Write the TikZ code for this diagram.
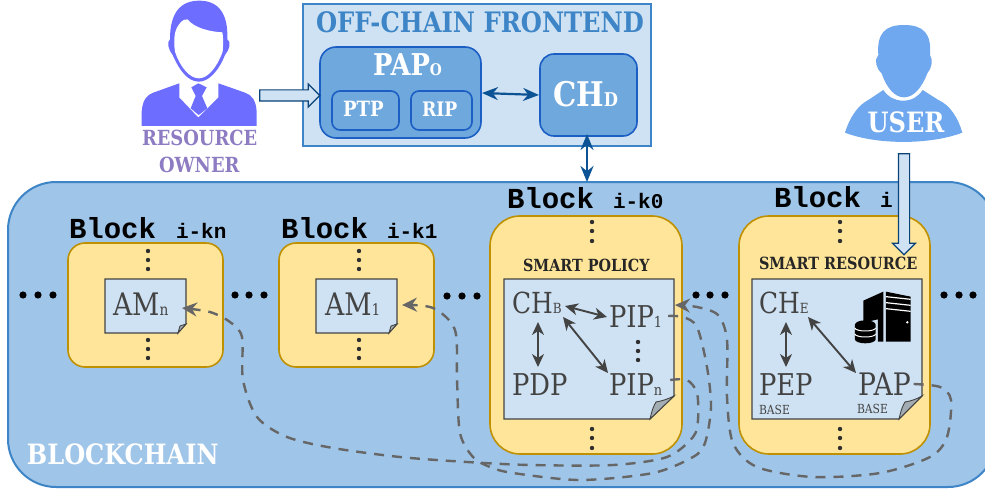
\documentclass[tikz,border=0pt]{standalone}
\usepackage{fontspec}
\setmainfont[FakeStretch=0.86]{DejaVu Serif}
\newfontfamily\blockfont{Liberation Mono}[BoldFont={Liberation Mono Bold}]
\usetikzlibrary{arrows.meta,shapes.arrows,calc}
\definecolor{chainfill}{HTML}{9FC5E8}
\definecolor{chainline}{HTML}{3D85C6}
\definecolor{palefill}{HTML}{CFE2F3}
\definecolor{midfill}{HTML}{6FA8DC}
\definecolor{midline}{HTML}{1C5FC4}
\definecolor{navy}{HTML}{0B5394}
\definecolor{yel}{HTML}{FFE599}
\definecolor{yelline}{HTML}{BF9000}
\definecolor{ink}{HTML}{434343}
\definecolor{dashink}{HTML}{666666}
\definecolor{ownerblue}{HTML}{6D6DFF}
\definecolor{userblue}{HTML}{6FA8EE}
\definecolor{ownertext}{HTML}{8E7CC3}
\newcommand{\fsz}[1]{\fontsize{#1}{#1}\selectfont}
\tikzset{
  lbl/.style={inner sep=0pt,outer sep=0pt,anchor=base west},
  doc/.style={draw=ink,line width=1.1pt,fill=palefill},
  fold/.style={draw=ink,line width=.9pt,fill=gray!55!palefill},
  yelbig/.style={draw=yelline,line width=1.6pt,fill=yel,rounded corners=30pt},
  yelsmall/.style={draw=yelline,line width=1.6pt,fill=yel,rounded corners=17pt},
  midbox/.style={draw=midline,line width=1.6pt,fill=midfill},
  twoway/.style={{Stealth[length=13pt,width=12pt,inset=4pt]}-{Stealth[length=13pt,width=12pt,inset=4pt]},ink,line width=1.9pt},
  navyway/.style={{Stealth[length=16pt,width=13pt]}-{Stealth[length=16pt,width=13pt]},navy,line width=2.2pt},
  dashlink/.style={-{Stealth[length=15pt,width=14pt,inset=5pt]},dashink,line width=2.4pt,dash pattern=on 10pt off 8pt},
  blockarrow/.style={single arrow,draw=navy!80!black,line width=1.2pt,fill=palefill,inner xsep=0pt,inner ysep=5pt,single arrow tip angle=90},
  vdot/.style={fill=ink!70!black},
  hdot/.style={fill=black}
}
\begin{document}
\begin{tikzpicture}[x=1pt,y=-1pt]
\clip (0,0) rectangle (985,492);
\fill[white] (0,0) rectangle (985,492);
% blockchain
\draw[chainline,line width=2pt,fill=chainfill,rounded corners=48pt] (8,182) rectangle (996,487);
\node[lbl,white] (chainlabel) at (27,464) {\fsz{28}\bfseries BLOCKCHAIN};
% frontend
\draw[chainline,line width=2pt,fill=palefill] (303,4) rectangle (651,146);
\node[lbl,chainline] (fronttitle) at (316,33) {\fsz{28.2}\bfseries OFF-CHAIN FRONTEND};
\draw[midbox,rounded corners=16pt] (320,47) rectangle (481,138);
\draw[midbox,rounded corners=8pt] (332,91) rectangle (399,130);
\draw[midbox,rounded corners=8pt] (411,91) rectangle (472,130);
\draw[midbox,rounded corners=14pt] (540,54) rectangle (637,136);
\coordinate (papobox) at (481,93);
\coordinate (chdleft) at (540,95);
\coordinate (chdbottom) at (587,136);
\coordinate (chaintop) at (587,182);
\node[lbl,white] (pap0) at (373,76) {\fsz{30}\bfseries PAP\fsz{16}O};
\node[lbl,white] (ptp) at (343,117) {\fsz{21}\bfseries PTP};
\node[lbl,white] (rip) at (422,117) {\fsz{20}\bfseries RIP};
\node[lbl,white] (chd) at (553,107) {\fsz{34}\bfseries CH\fsz{19}D};
\draw[navyway] ([xshift=1pt]papobox) -- ([xshift=-1pt]chdleft);
\draw[navyway] ([yshift=2pt]chdbottom) -- (chaintop);
% blocks
\draw[yelsmall] (68,243) rectangle (223,367);
\draw[yelsmall] (279,243) rectangle (434,367);
\draw[yelbig] (490,216) rectangle (682,454);
\draw[yelbig] (739,216) rectangle (930,454);
% block labels
\node[lbl] (bkn) at (69,238) {\blockfont\bfseries\fsz{29}Block};
\node[lbl] (skn) at (176,238) {\blockfont\bfseries\fsz{21}i-kn};
\node[lbl] (bk1) at (281,238) {\blockfont\bfseries\fsz{29}Block};
\node[lbl] (sk1) at (387,238) {\blockfont\bfseries\fsz{21}i-k1};
\node[lbl] (bk0) at (507,208) {\blockfont\bfseries\fsz{29}Block};
\node[lbl] (sk0) at (613,208) {\blockfont\bfseries\fsz{21}i-k0};
\node[lbl] (bi) at (774,207) {\blockfont\bfseries\fsz{29}Block};
\node[lbl] (si) at (880,207) {\blockfont\bfseries\fsz{21}i};
% documents
\draw[doc] (105,279) -- (186,279) -- (186,324) -- (178,333) -- (105,333) -- cycle;
\draw[fold] (186,324) -- (178,333) -- (180,326) -- cycle;
\draw[doc] (316,279) -- (397,279) -- (397,324) -- (389,333) -- (316,333) -- cycle;
\draw[fold] (397,324) -- (389,333) -- (391,326) -- cycle;
\draw[doc] (504,279) -- (674,279) -- (674,396) -- (650,419) -- (504,419) -- cycle;
\draw[fold] (674,396) -- (650,419) .. controls (652,410) and (654,405) .. (656,402) .. controls (662,401) and (668,399) .. (674,396) -- cycle;
\draw[doc] (752,279) -- (922,279) -- (922,396) -- (899,419) -- (752,419) -- cycle;
\draw[fold] (922,396) -- (899,419) .. controls (901,410) and (903,405) .. (905,402) .. controls (911,401) and (917,399) .. (922,396) -- cycle;
% doc text
\node[lbl,ink] (amn) at (113,315) {\fsz{31}AM\fsz{16}n};
\node[lbl,ink] (am1) at (325,315) {\fsz{31}AM\fsz{16}1};
\node[lbl,black!85] (sp) at (523,271) {\fsz{16.7}\bfseries SMART POLICY};
\node[lbl,black!85] (sr) at (759,269) {\fsz{16.8}\bfseries SMART RESOURCE};
\node[lbl,ink] (chb) at (512,313) {\fsz{29}CH\fsz{14}B};
\node[lbl,ink] (pip1) at (609,327) {\fsz{30}PIP\fsz{15}1};
\node[lbl,ink] (pdp) at (512,395) {\fsz{30}PDP};
\node[lbl,ink] (pipn) at (609,395) {\fsz{30}PIP\fsz{15}n};
\node[lbl,ink] (che) at (759,313) {\fsz{29}CH\fsz{14}E};
\node[lbl,ink] (pep) at (759,395) {\fsz{30}PEP};
\node[lbl,ink] (pap) at (858,395) {\fsz{31}PAP};
\node[lbl,ink] (basea) at (759,414) {\fsz{12.5}BASE};
\node[lbl,ink] (baseb) at (857,413) {\fsz{12.5}BASE};
% inner arrows
\coordinate (a1) at (565,306); \coordinate (a2) at (607,317);
\coordinate (b1) at (563,317); \coordinate (b2) at (608,373);
\coordinate (c1) at (538,322); \coordinate (c2) at (538,367);
\coordinate (d1) at (786,322); \coordinate (d2) at (786,367);
\coordinate (e1) at (808,317); \coordinate (e2) at (856,373);
\draw[twoway] (a1) -- (a2);
\draw[twoway] (b1) -- (b2);
\draw[twoway] (c1) -- (c2);
\draw[twoway] (d1) -- (d2);
\draw[twoway] (e1) -- (e2);
% dots
\foreach \x/\yy in {148/251,148/260,148/269,148/340,148/349,148/358,359/251,359/260,359/269,359/340,359/349,359/358,592/222,592/231,592/241,592/429,592/438,592/448,840/222,840/231,840/241,840/429,840/438,840/448,638/342,638/351,638/360}
  \fill[vdot] (\x,\yy) circle (2.2pt);
\foreach \x/\yy in {23/295,38/295,53/295,235/295,249/295,264/295,447/296,462/296,477/296,696/295,710/295,725/295,944/295,959/295,973/295}
  \fill[hdot] (\x,\yy) circle (3.6pt);
% server icon
\begin{scope}[shift={(480,180)},x=.3333pt,y=-.3333pt]
  \fill[black] (1150,362) -- (1210,335) -- (1210,485) -- (1194,485) -- (1194,418) -- (1150,428) -- cycle;
  \fill[black] (1218,335) -- (1292,350) -- (1292,485) -- (1218,485) -- cycle;
  \foreach \yy in {350,368,386} \draw[white,line width=1.2pt] (1218,\yy) -- (1292,\yy+8);
  \fill[white] (1282,427) circle (4);
  \fill[black] (1125,434) arc[start angle=180,end angle=360,x radius=31,y radius=13] -- (1187,478) arc[start angle=0,end angle=180,x radius=31,y radius=12] -- cycle;
  \draw[white,line width=1pt] (1125,444) arc[start angle=180,end angle=0,x radius=31,y radius=9];
  \draw[white,line width=1pt] (1125,462) arc[start angle=180,end angle=0,x radius=31,y radius=9];
\end{scope}
% dashed links
\coordinate (pipnout) at ([shift={(8,-15)}]pipn.base east);
\coordinate (pip1out) at ([shift={(6,-11)}]pip1.base east);
\coordinate (papout) at ([shift={(3,-11)}]pap.base east);
\coordinate (amnin) at (182,308);
\coordinate (am1in) at (402,305);
\coordinate (pip1in) at (675,305);
\draw[dashlink] plot[smooth,tension=.5] coordinates {(pipnout) (687,380) (697,393) (698,420) (693,437) (667,457) (613,465) (530,465) (467,462) (400,457) (333,448) (287,437) (257,417) (243,380) (242,337) (230,322) (210,312) (amnin)};
\draw[dashlink] plot[smooth,tension=.5] coordinates {(pip1out) (683,317) (697,327) (707,367) (711,407) (705,443) (693,457) (653,473) (580,480) (513,473) (490,467) (473,457) (460,433) (457,380) (455,330) (433,308) (am1in)};
\draw[dashlink] plot[smooth,tension=.5] coordinates {(papout) (940,387) (951,400) (947,437) (930,457) (880,473) (813,477) (757,467) (733,443) (727,397) (727,340) (718,315) (697,307) (pip1in)};
% owner
\begin{scope}[shift={(130,0)},x=.3333pt,y=-.3333pt]
  \fill[ownerblue] (35,378) -- (35,335) .. controls (38,300) and (50,285) .. (70,278) -- (148,250) -- (265,250) -- (345,278) .. controls (365,285) and (378,300) .. (380,335) -- (380,378) -- cycle;
  \fill[white] (148,248) -- (265,248) -- (265,292) -- (205,352) -- (148,292) -- cycle;
  \fill[ownerblue] (184,262) -- (205,250) -- (230,262) -- (216,288) -- (232,325) -- (206,345) -- (182,325) -- (197,288) -- cycle;
  \fill[ownerblue] (120,118) .. controls (120,40) and (150,2) .. (208,2) .. controls (265,2) and (295,40) .. (292,118) .. controls (305,125) and (298,150) .. (285,165) .. controls (265,215) and (235,245) .. (207,245) .. controls (175,245) and (150,215) .. (128,165) .. controls (115,150) and (110,125) .. (120,118) -- cycle;
  \fill[white] (135,100) .. controls (140,75) and (160,55) .. (172,58) .. controls (195,85) and (240,95) .. (277,97) .. controls (280,110) and (280,130) .. (278,155) .. controls (260,205) and (232,235) .. (207,235) .. controls (180,235) and (152,205) .. (135,155) .. controls (132,135) and (132,115) .. (135,100) -- cycle;
\end{scope}
\node[lbl,ownertext] (rown) at (142,146) {\fsz{20.8}\bfseries RESOURCE};
\node[lbl,ownertext] (oown) at (159,172) {\fsz{20.8}\bfseries OWNER};
\node[blockarrow,minimum height=60pt,minimum width=22pt,single arrow head extend=6pt] (ownerarrow) at (287,95.5) {};
% user
\begin{scope}[shift={(830,10)},x=.3333pt,y=-.3333pt]
  \fill[userblue] (45,368) .. controls (60,320) and (85,285) .. (115,270) -- (160,240) .. controls (175,262) and (195,272) .. (220,272) .. controls (245,272) and (265,260) .. (278,240) -- (325,270) .. controls (360,285) and (385,325) .. (397,368) .. controls (300,405) and (140,405) .. (45,368) -- cycle;
  \fill[userblue] (145,135) .. controls (140,70) and (165,45) .. (222,45) .. controls (280,45) and (305,70) .. (300,135) .. controls (310,150) and (305,175) .. (292,190) .. controls (275,235) and (250,262) .. (222,262) .. controls (195,262) and (170,235) .. (155,190) .. controls (138,175) and (132,150) .. (145,135) -- cycle;
\end{scope}
\node[inner sep=0pt,anchor=base,white] (usertxt) at (906,133) {\fsz{28}\bfseries USER};
\node[blockarrow,rotate=-90,minimum height=101pt,minimum width=22pt,single arrow head extend=6pt] (userarrow) at (904,201.5) {};
\end{tikzpicture}
\end{document}
